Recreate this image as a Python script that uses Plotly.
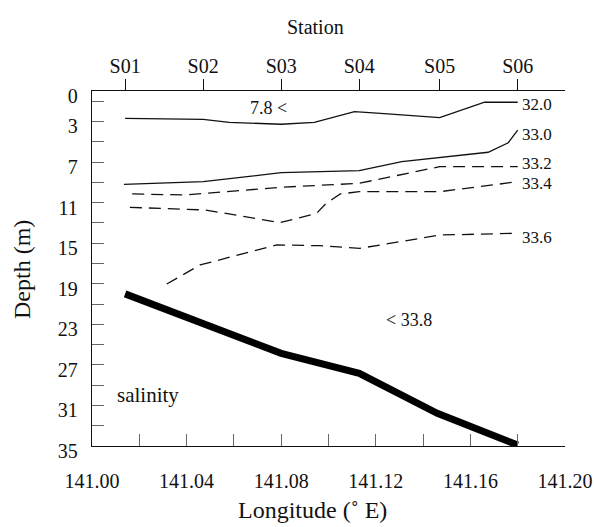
import plotly.graph_objects as go

FONT = "Liberation Serif, Times New Roman, serif"
INK = "#111111"
TICK = "#666666"

# stations along the transect (top axis)
stations = ["S01", "S02", "S03", "S04", "S05", "S06"]
station_lon = [141.014, 141.047, 141.080, 141.113, 141.147, 141.180]

# isohalines: longitude (deg E) and depth (m) of each contour
s320_lon = [141.014, 141.047, 141.058, 141.080, 141.094, 141.111, 141.122, 141.147, 141.166, 141.180]
s320_dep = [2.69, 2.79, 3.09, 3.28, 3.09, 2.04, 2.20, 2.63, 1.11, 1.11]

s330_lon = [141.0135, 141.047, 141.080, 141.113, 141.131, 141.147, 141.1675, 141.176, 141.180]
s330_dep = [9.21, 8.94, 8.05, 7.86, 6.97, 6.58, 6.04, 5.10, 3.85]

s332_lon = [141.017, 141.039, 141.080, 141.113, 141.147, 141.180]
s332_dep = [10.15, 10.25, 9.49, 9.10, 7.46, 7.46]

s334_lon = [141.016, 141.037, 141.048, 141.0795, 141.095, 141.099, 141.105, 141.113, 141.147, 141.180]
s334_dep = [11.47, 11.66, 11.73, 12.98, 12.06, 11.07, 10.15, 9.93, 9.93, 8.94]

s336_lon = [141.0316, 141.0457, 141.0781, 141.0964, 141.1133, 141.1471, 141.1796]
s336_dep = [19.03, 17.15, 15.18, 15.25, 15.51, 14.20, 14.03]

# sea floor along the transect
bottom_lon = [141.014, 141.080, 141.113, 141.146, 141.180]
bottom_dep = [20.0, 25.86, 27.83, 31.78, 34.9]

# contour labels at the eastern end of each isohaline
contour_text = ["32.0", "33.0", "33.2", "33.4", "33.6"]
contour_label_dep = [1.33, 4.24, 7.12, 9.10, 14.49]

# depth axis labels
depth_ticks = [0, 3, 7, 11, 15, 19, 23, 27, 31, 35]
lon_ticks = [141.00, 141.04, 141.08, 141.12, 141.16, 141.20]

fig = go.Figure()

solid = dict(color=INK, width=1.3)
dashed = dict(color=INK, width=1.3, dash="12px,7px")

for lon, dep, style in [
    (s320_lon, s320_dep, solid),
    (s330_lon, s330_dep, solid),
    (s332_lon, s332_dep, dashed),
    (s334_lon, s334_dep, dashed),
    (s336_lon, s336_dep, dashed),
]:
    fig.add_trace(go.Scatter(x=lon, y=dep, mode="lines", line=style,
                             showlegend=False, hoverinfo="skip"))

fig.add_trace(go.Scatter(x=bottom_lon, y=bottom_dep, mode="lines",
                         line=dict(color="#000000", width=7),
                         showlegend=False, hoverinfo="skip"))

# station axis carrier
fig.add_trace(go.Scatter(x=station_lon, y=[0] * len(station_lon), xaxis="x2",
                         mode="markers", marker=dict(opacity=0),
                         showlegend=False, hoverinfo="skip"))

for txt, dep in zip(contour_text, contour_label_dep):
    fig.add_annotation(x=station_lon[-1], y=dep, text=txt, showarrow=False,
                       xanchor="left", yanchor="middle", xshift=2,
                       font=dict(family=FONT, size=17, color=INK))

fig.add_annotation(x=141.0747, y=1.68, text="7.8 <", showarrow=False,
                   font=dict(family=FONT, size=18, color=INK))
fig.add_annotation(x=141.1342, y=22.53, text="< 33.8", showarrow=False,
                   font=dict(family=FONT, size=18, color=INK))
fig.add_annotation(x=141.0238, y=30.0, text="salinity", showarrow=False,
                   font=dict(family=FONT, size=21, color=INK))

# axis titles
fig.add_annotation(xref="paper", yref="paper", x=0.4715, y=1.180, text="Station",
                   showarrow=False, xanchor="center", yanchor="middle",
                   font=dict(family=FONT, size=20, color=INK))
fig.add_annotation(xref="paper", yref="paper", x=0.467, y=-0.179,
                   text="Longitude (\u02da E)", showarrow=False,
                   xanchor="center", yanchor="middle",
                   font=dict(family=FONT, size=24, color=INK))
fig.add_annotation(xref="paper", yref="paper", x=-0.148, y=0.4986,
                   text="Depth (m)", textangle=-90, showarrow=False,
                   xanchor="center", yanchor="middle",
                   font=dict(family=FONT, size=24, color=INK))

fig.update_layout(
    width=594, height=527,
    margin=dict(l=92, r=29, t=91, b=81, autoexpand=False),
    paper_bgcolor="white", plot_bgcolor="white",
    font=dict(family=FONT, size=20, color=INK),
    xaxis=dict(
        range=[141.0, 141.2], tickmode="array", tickvals=lon_ticks,
        ticktext=[f"{v:.2f}" for v in lon_ticks],
        ticks="inside", ticklen=12, tickcolor=TICK, tickwidth=1,
        minor=dict(tickmode="linear", tick0=141.0, dtick=0.02, ticks="inside",
                   ticklen=12, tickcolor=TICK, tickwidth=1),
        showline=True, linecolor=INK, linewidth=1.3, mirror=False,
        showgrid=False, zeroline=False, ticklabelstandoff=17, automargin=False,
        tickfont=dict(family=FONT, size=20, color=INK),
    ),
    xaxis2=dict(
        range=[141.0, 141.2], overlaying="x", side="top",
        tickmode="array", tickvals=station_lon, ticktext=stations,
        ticks="outside", ticklen=11, tickcolor=INK, tickwidth=1,
        showline=True, linecolor=INK, linewidth=1.3,
        showgrid=False, zeroline=False, ticklabelstandoff=-2, automargin=False,
        tickfont=dict(family=FONT, size=20, color=INK),
    ),
    yaxis=dict(
        range=[35, 0], tickmode="array", tickvals=depth_ticks,
        ticktext=[str(v) for v in depth_ticks],
        ticks="inside", ticklen=12, tickcolor=TICK, tickwidth=1,
        minor=dict(tickmode="array", tickvals=list(range(1, 35, 2)), ticks="inside",
                   ticklen=12, tickcolor=TICK, tickwidth=1),
        showline=True, linecolor=INK, linewidth=1.3,
        showgrid=False, zeroline=False, ticklabelstandoff=9, automargin=False,
        ticklabelshift=-5,
        tickfont=dict(family=FONT, size=20, color=INK),
    ),
)

fig.write_html("out.html")
